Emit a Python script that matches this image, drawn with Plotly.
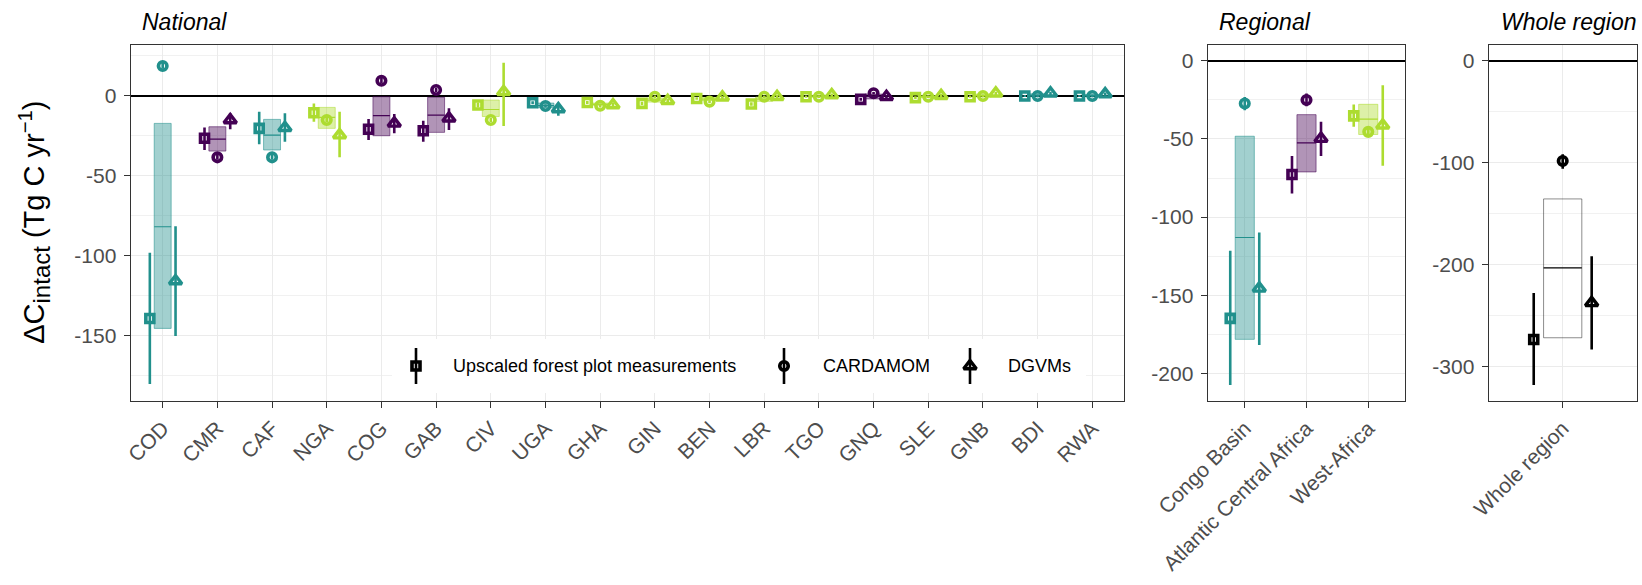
import plotly.graph_objects as go

W, H = 1642, 585

# ---------------- data ----------------
countries = ["COD", "CMR", "CAF", "NGA", "COG", "GAB", "CIV", "UGA", "GHA",
             "GIN", "BEN", "LBR", "TGO", "GNQ", "SLE", "GNB", "BDI", "RWA"]
country_group = ["CB", "ACA", "CB", "WA", "ACA", "ACA", "WA", "CB", "WA",
                 "WA", "WA", "WA", "WA", "ACA", "WA", "WA", "CB", "CB"]

nat_plot_val = [-139.2, -26.6, -20.4, -10.6, -21.0, -21.9, -5.8, -4.4, -4.2,
                -4.8, -1.7, -5.2, -0.6, -2.3, -1.2, -0.6, -0.2, -0.2]
nat_plot_lo = [-180.2, -33.9, -30.4, -16.2, -27.7, -28.7, -7.3, -5.4, -5.1,
               -5.8, -2.5, -6.3, -1.3, -3.1, -2.0, -1.3, -0.8, -0.8]
nat_plot_hi = [-98.1, -19.8, -10.0, -4.8, -14.6, -15.6, -4.3, -3.4, -3.3,
               -3.8, -0.9, -4.1, 0.1, -1.5, -0.4, 0.1, 0.4, 0.4]

nat_card_val = [18.6, -38.5, -38.5, -15.2, 9.4, 3.6, -15.2, -6.4, -6.3,
                -0.6, -3.7, -0.6, -0.6, 1.5, -0.6, -0.2, -0.2, -0.2]
nat_card_lo = [16.8, -40.0, -40.0, -16.5, 7.8, 2.2, -16.5, -7.4, -7.3,
               -1.4, -4.5, -1.4, -1.4, 0.7, -1.4, -1.0, -1.0, -1.0]
nat_card_hi = [20.4, -37.0, -37.0, -13.9, 11.0, 5.0, -13.9, -5.4, -5.3,
               0.2, -2.9, 0.2, 0.2, 2.3, 0.2, 0.6, 0.6, 0.6]

nat_dgvm_val = [-115.8, -15.2, -20.0, -24.6, -17.3, -14.1, 2.5, -8.3, -5.8,
                -3.1, -1.0, -0.6, 0.4, -0.6, 0.0, 1.5, 1.5, 1.0]
nat_dgvm_lo = [-150.2, -21.0, -28.7, -38.5, -23.5, -21.4, -19.0, -12.5, -7.2,
               -4.3, -2.0, -1.6, -0.6, -1.6, -1.0, 0.5, 0.5, 0.0]
nat_dgvm_hi = [-81.5, -11.0, -11.0, -10.0, -11.4, -7.9, 20.6, -4.5, -4.4,
               -1.9, 0.0, 0.4, 1.4, 0.4, 1.0, 2.5, 2.5, 2.0]

nat_box_lo = [-145.4, -34.6, -33.9, -20.4, -25.0, -22.9, -13.0, -7.5, -6.0,
              -4.0, -3.0, -3.5, -1.0, -2.0, -1.2, -0.8, -0.6, -0.6]
nat_box_mid = [-81.9, -27.1, -24.6, -13.5, -12.5, -12.1, -8.6, -6.2, -5.4,
               -2.8, -2.1, -2.1, -0.3, -0.5, -0.6, 0.2, 0.4, 0.2]
nat_box_hi = [-17.3, -19.4, -14.8, -7.3, -0.6, -1.0, -2.7, -4.6, -4.6,
              -1.5, -1.2, -0.8, 0.3, 1.0, 0.0, 1.0, 1.2, 0.8]

regions = ["Congo Basin", "Atlantic Central Africa", "West-Africa"]
region_group = ["CB", "ACA", "WA"]
reg_plot_val = [-164.7, -72.8, -35.3]
reg_plot_lo = [-207.2, -84.9, -42.3]
reg_plot_hi = [-121.5, -61.0, -28.1]
reg_card_val = [-27.4, -25.1, -45.5]
reg_card_lo = [-31.7, -29.1, -47.5]
reg_card_hi = [-23.2, -21.0, -43.5]
reg_dgvm_val = [-145.5, -49.8, -41.3]
reg_dgvm_lo = [-181.7, -60.9, -67.2]
reg_dgvm_hi = [-109.8, -39.1, -15.7]
reg_box_lo = [-178.1, -71.1, -47.2]
reg_box_mid = [-113.0, -52.6, -37.4]
reg_box_hi = [-48.3, -34.5, -27.9]

whole = ["Whole region"]
whole_group = ["ALL"]
whole_plot_val = [-273.3]
whole_plot_lo = [-318.0]
whole_plot_hi = [-227.6]
whole_card_val = [-98.3]
whole_card_lo = [-105.8]
whole_card_hi = [-91.7]
whole_dgvm_val = [-237.4]
whole_dgvm_lo = [-283.0]
whole_dgvm_hi = [-191.6]
whole_box_lo = [-271.6]
whole_box_mid = [-203.1]
whole_box_hi = [-135.5]

methods = ["Upscaled forest plot measurements", "CARDAMOM", "DGVMs"]

# ---------------- styling ----------------
group_rgb = {"CB": (33, 144, 140), "ACA": (68, 1, 84), "WA": (173, 220, 48), "ALL": (0, 0, 0)}
symbols = ["square-open", "circle-open", "triangle-up-open"]
sym_size = [8, 8.5, 11]
sym_lw = [3.6, 3.6, 3.4]
offsets = [-0.235, 0.0, 0.235]
BOXW = 0.31
FONT = "Liberation Sans, Arial, sans-serif"
GRID = "#EBEBEB"
FRAME = "#333333"


def rgba(g, a):
    r, gg, b = group_rgb[g]
    return f"rgba({r},{gg},{b},{a})"


# pixel layout (margins are zero so paper == pixels)
top_px, bot_px = 45.0, 400.7
panels = [
    dict(ax="", x0=130.7, x1=1124.3, yr=[-190.6, 31.7], xr=[-0.585, 17.585],
         names=countries, groups=country_group,
         vals=[nat_plot_val, nat_card_val, nat_dgvm_val],
         los=[nat_plot_lo, nat_card_lo, nat_dgvm_lo],
         his=[nat_plot_hi, nat_card_hi, nat_dgvm_hi],
         box=(nat_box_lo, nat_box_mid, nat_box_hi),
         ticks=[-150, -100, -50, 0], minor=[-175, -125, -75, -25, 25]),
    dict(ax="2", x0=1207.7, x1=1405.3, yr=[-217.3, 10.0], xr=[-0.6, 2.6],
         names=regions, groups=region_group,
         vals=[reg_plot_val, reg_card_val, reg_dgvm_val],
         los=[reg_plot_lo, reg_card_lo, reg_dgvm_lo],
         his=[reg_plot_hi, reg_card_hi, reg_dgvm_hi],
         box=(reg_box_lo, reg_box_mid, reg_box_hi),
         ticks=[-200, -150, -100, -50, 0], minor=[-175, -125, -75, -25]),
    dict(ax="3", x0=1488.7, x1=1636.7, yr=[-333.3, 15.4], xr=[-0.6, 0.6],
         names=whole, groups=whole_group,
         vals=[whole_plot_val, whole_card_val, whole_dgvm_val],
         los=[whole_plot_lo, whole_card_lo, whole_dgvm_lo],
         his=[whole_plot_hi, whole_card_hi, whole_dgvm_hi],
         box=(whole_box_lo, whole_box_mid, whole_box_hi),
         ticks=[-300, -200, -100, 0], minor=[-250, -150, -50]),
]

fig = go.Figure()
layout = dict(
    width=W, height=H, margin=dict(l=0, r=0, t=0, b=0, autoexpand=False),
    paper_bgcolor="white", plot_bgcolor="rgba(0,0,0,0)",
    showlegend=False, barmode="overlay",
    font=dict(family=FONT, color="#4D4D4D"),
)

for p in panels:
    xa, ya = "x" + p["ax"], "y" + p["ax"]
    n = len(p["names"])
    pos = list(range(n))
    blo, bmid, bhi = p["box"]
    fills, lines = [], []
    for g in p["groups"]:
        if g == "ALL":
            fills.append("rgba(0,0,0,0)")
            lines.append("rgba(0,0,0,0.45)")
        else:
            fills.append(rgba(g, 0.42))
            lines.append(rgba(g, 0.55))
    fig.add_trace(go.Bar(
        x=pos, base=blo, y=[h - l for h, l in zip(bhi, blo)], width=BOXW,
        marker=dict(color=fills, line=dict(color=lines, width=1)),
        xaxis=xa, yaxis=ya, hoverinfo="skip"))
    for g in sorted(set(p["groups"])):
        xs, ys = [], []
        for i in pos:
            if p["groups"][i] == g:
                xs += [i - BOXW / 2, i + BOXW / 2, None]
                ys += [bmid[i], bmid[i], None]
        fig.add_trace(go.Scatter(x=xs, y=ys, mode="lines",
                                 line=dict(color=rgba(g, 1), width=1.2),
                                 xaxis=xa, yaxis=ya, hoverinfo="skip"))
    for m in range(3):
        vals, los, his = p["vals"][m], p["los"][m], p["his"][m]
        for g in sorted(set(p["groups"])):
            idx = [i for i in pos if p["groups"][i] == g]
            col = rgba(g, 1)
            fig.add_trace(go.Scatter(
                x=[i + offsets[m] for i in idx], y=[vals[i] for i in idx],
                mode="markers",
                marker=dict(symbol=symbols[m], size=sym_size[m], color=col,
                            line=dict(width=sym_lw[m], color=col)),
                error_y=dict(type="data", symmetric=False,
                             array=[his[i] - vals[i] for i in idx],
                             arrayminus=[vals[i] - los[i] for i in idx],
                             width=0, thickness=2.6, color=col),
                xaxis=xa, yaxis=ya, hoverinfo="skip", cliponaxis=False))

    layout["xaxis" + p["ax"]] = dict(
        domain=[p["x0"] / W, p["x1"] / W], range=p["xr"], anchor=ya,
        tickmode="array", tickvals=pos, ticktext=p["names"], tickangle=-45,
        tickfont=dict(size=21, color="#4D4D4D", family=FONT),
        showgrid=True, gridcolor=GRID, gridwidth=1.3, zeroline=False,
        showline=True, mirror=True, linecolor=FRAME, linewidth=1.3,
        ticks="outside", ticklen=6, tickwidth=1.3, tickcolor=FRAME,
        automargin=False, fixedrange=True)
    layout["yaxis" + p["ax"]] = dict(
        domain=[1 - bot_px / H, 1 - top_px / H], range=p["yr"], anchor=xa,
        tickmode="array", tickvals=p["ticks"], ticktext=[str(t) for t in p["ticks"]],
        tickfont=dict(size=21, color="#4D4D4D", family=FONT),
        showgrid=True, gridcolor=GRID, gridwidth=1.3,
        minor=dict(tickmode="array", tickvals=p["minor"], showgrid=True,
                   gridcolor="#F1F1F1", gridwidth=0.8, ticks=""),
        zeroline=True, zerolinecolor="black", zerolinewidth=1.6,
        showline=True, mirror=True, linecolor=FRAME, linewidth=1.3,
        ticks="outside", ticklen=6, tickwidth=1.3, tickcolor=FRAME,
        ticklabelstandoff=3, automargin=False, fixedrange=True)

# ---------------- legend (pixel-space overlay axes) ----------------
layout["xaxis4"] = dict(domain=[0, 1], range=[0, W], visible=False, anchor="y4", fixedrange=True)
layout["yaxis4"] = dict(domain=[0, 1], range=[H, 0], visible=False, anchor="x4", fixedrange=True)
leg_y = 366
leg_key_x = [416, 784, 970]
leg_txt_x = [451, 821, 1006]
shapes = [dict(type="rect", xref="x4", yref="y4", x0=392, x1=1086, y0=339, y1=393,
               fillcolor="white", line=dict(width=0), layer="between")]
for m in range(3):
    fig.add_trace(go.Scatter(
        x=[leg_key_x[m]], y=[leg_y], mode="markers",
        marker=dict(symbol=symbols[m], size=sym_size[m], color="black",
                    line=dict(width=sym_lw[m], color="black")),
        error_y=dict(type="constant", value=18, width=0, thickness=2.6, color="black"),
        xaxis="x4", yaxis="y4", hoverinfo="skip", cliponaxis=False))

annotations = []
for m in range(3):
    annotations.append(dict(xref="x4", yref="y4", x=leg_txt_x[m], y=leg_y,
                            text=methods[m], showarrow=False, xanchor="left",
                            yanchor="middle", font=dict(size=18, color="black", family=FONT)))

for title, xpx in [("National", 140), ("Regional", 1217), ("Whole region", 1499)]:
    annotations.append(dict(xref="paper", yref="paper", x=xpx / W, y=1 - 21.7 / H,
                            text=f"<i>{title}</i>", showarrow=False, xanchor="left",
                            yanchor="middle", font=dict(size=23, color="black", family=FONT)))

annotations.append(dict(
    xref="paper", yref="paper", x=35 / W, y=1 - 222.8 / H,
    text="ΔC<sub><span style='font-size:24px'>intact</span></sub> (Tg C yr<sup>−1</sup>)",
    textangle=-90, showarrow=False, xanchor="center", yanchor="middle",
    font=dict(size=29, color="black", family=FONT)))

layout["annotations"] = annotations
layout["shapes"] = shapes
fig.update_layout(**layout)
fig.write_html("out.html", config={"displayModeBar": False},
               post_script="document.body.style.margin='0';document.body.style.overflow='hidden';")
